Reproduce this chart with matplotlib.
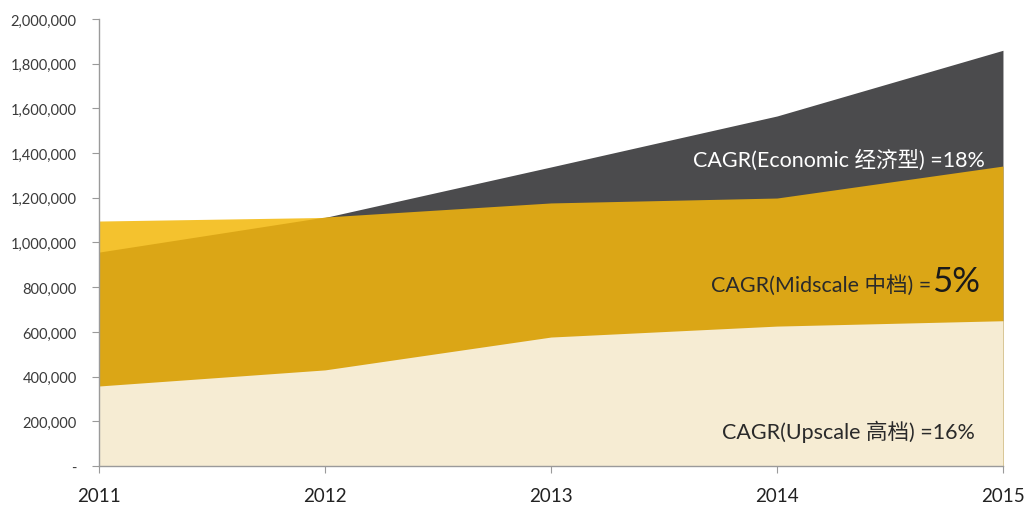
import numpy as np
import matplotlib
matplotlib.use("Agg")
import matplotlib.pyplot as plt
from matplotlib.ticker import FuncFormatter
from matplotlib.transforms import offset_copy

plt.rcParams["font.family"] = ["Lato", "Noto Sans CJK SC", "DejaVu Sans"]

years = [2011, 2012, 2013, 2014, 2015]
upscale = [358000, 430000, 577000, 626000, 650000]
midscale = [957000, 1114000, 1177000, 1199000, 1342000]
economic = [np.nan, 1112000, 1338000, 1566000, 1860000]
early_total = [1096000, 1112000]

c_econ = "#4b4b4d"
c_early = "#f4c22e"
c_mid = "#dba616"
c_up = "#f6ecd3"

fig = plt.figure(figsize=(10.29, 5.10), dpi=100)
ax = fig.add_axes([0.0962, 0.0843, 0.8785, 0.8765])

ax.fill_between(years, economic, color=c_econ, lw=0)
ax.fill_between(years[:2], early_total, color=c_early, lw=0)
ax.fill_between(years, midscale, color=c_mid, lw=0)
ax.fill_between(years, upscale, color=c_up, lw=0)

ax.set_xlim(2011, 2015)
ax.set_ylim(0, 2000000)
ax.set_xticks(years)
ax.set_yticks(np.arange(0, 2000001, 200000))
ax.yaxis.set_major_formatter(FuncFormatter(lambda v, p: "-" if v == 0 else f"{int(v):,}"))

for s in ["top", "right"]:
    ax.spines[s].set_visible(False)
for s in ["left", "bottom"]:
    ax.spines[s].set_color("#9a9a9a")
    ax.spines[s].set_linewidth(1.0)

ax.tick_params(axis="y", labelsize=10.5, labelcolor="#3a3a3a", color="#9a9a9a", length=5, pad=11)
ax.tick_params(axis="x", labelsize=13.5, labelcolor="#222222", color="#9a9a9a", length=5, pad=10)

# growth-rate labels on each band
ax.text(2014.92, 1374000, "CAGR(Economic 经济型) =18%", color="white",
        fontsize=15.5, ha="right", va="center")
pct = ax.text(2014.90, 783000, "5%", color="#1a1a1a", fontsize=25,
              ha="right", va="baseline")
fig.canvas.draw()
pct_w = pct.get_window_extent().width
ax.text(2014.90, 783000, "CAGR(Midscale 中档) =", color="#2a2a2a",
        fontsize=15.5, ha="right", va="baseline",
        transform=offset_copy(ax.transData, fig=fig, x=-pct_w - 1, units="dots"))
ax.text(2014.876, 157000, "CAGR(Upscale 高档) =16%", color="#2a2a2a",
        fontsize=15.5, ha="right", va="center")

fig.savefig("out.png", dpi=100)
